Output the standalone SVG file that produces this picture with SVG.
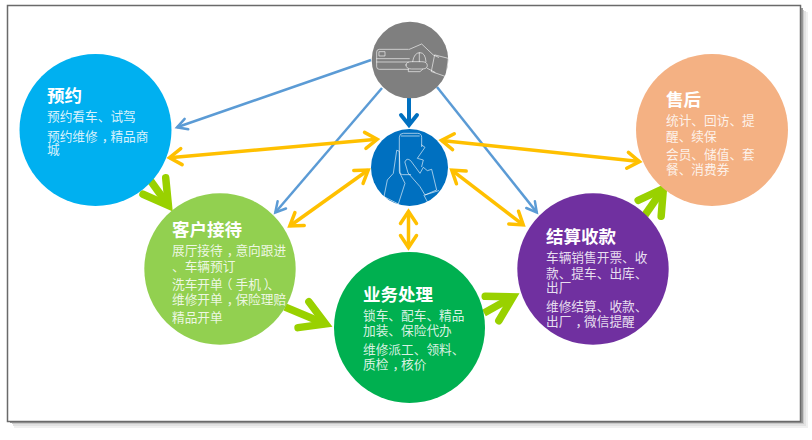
<svg xmlns="http://www.w3.org/2000/svg" width="812" height="440" viewBox="0 0 812 440">
<style>
.t{font-family:"Noto Sans CJK SC","Liberation Sans",sans-serif;fill:#fff}
.h{font-size:17.5px;font-weight:700}
.b{font-size:12.7px;fill-opacity:.85}
.p{letter-spacing:4px}
.m{letter-spacing:-4px}
.p3{letter-spacing:3px}
.m3{letter-spacing:-3px}
.y{stroke:#FFC000;stroke-width:3.5;fill:none;marker-start:url(#my);marker-end:url(#my)}
.l{stroke:#5B9BD5;stroke-width:2.5;fill:none;marker-end:url(#ml)}
.g{stroke:#99D100;stroke-width:7.5;fill:none;marker-end:url(#mg)}
.i{fill:none;stroke:#fff;stroke-opacity:.7;stroke-width:2.6;stroke-linejoin:round;stroke-linecap:round}
</style>
<defs>
<marker id="my" markerUnits="userSpaceOnUse" markerWidth="30" markerHeight="30" viewBox="-20 -15 30 30" refX="0" refY="0" orient="auto-start-reverse"><path d="M-12,-8L0,0L-12,8" fill="none" stroke="#FFC000" stroke-width="3.5" stroke-linecap="round"/></marker>
<marker id="ml" markerUnits="userSpaceOnUse" markerWidth="24" markerHeight="24" viewBox="-14 -12 24 24" refX="0" refY="0" orient="auto"><path d="M-10,-5.5L0,0L-10,5.5" fill="none" stroke="#5B9BD5" stroke-width="2.5" stroke-linecap="round"/></marker>
<marker id="md" markerUnits="userSpaceOnUse" markerWidth="30" markerHeight="30" viewBox="-15 -15 30 30" refX="0" refY="0" orient="auto"><path d="M-10,-8L0,0L-10,8" fill="none" stroke="#0070C0" stroke-width="4" stroke-linecap="round"/></marker>
<marker id="mg" markerUnits="userSpaceOnUse" markerWidth="60" markerHeight="60" viewBox="-35 -30 60 60" refX="0" refY="0" orient="auto"><path d="M-24,-14L0,0L-24,14" fill="none" stroke="#99D100" stroke-width="7.5" stroke-linecap="round"/></marker>
</defs>
<rect width="812" height="440" fill="#fff"/>
<g id="frame">
<rect x="14" y="12" width="794" height="416" fill="#f0f0f0"/>
<rect x="13" y="11" width="793" height="415" fill="#e2e2e2"/>
<rect x="12" y="10" width="792" height="414" fill="#c8c8c8"/>
<rect x="10" y="8" width="793" height="415" fill="#989898"/>
<rect x="7.5" y="5.5" width="793" height="416" fill="#fff" stroke="#6a6a6a" stroke-width="1.5"/>
</g>
<g id="connectors">
<path class="l" d="M371,60L177,127.3"/>
<path class="l" d="M382,88L275.3,212.5"/>
<path class="l" d="M437,87L536.8,212.4"/>
<path d="M409,98V125" fill="none" stroke="#0070C0" stroke-width="4" marker-end="url(#md)"/>
<path class="y" d="M169.5,157.7L377.2,139.3"/>
<path class="y" d="M441.5,140.4L639.5,161.6"/>
<path class="y" d="M368.2,170L289.8,226"/>
<path class="y" d="M451.8,170.1L523.2,224.9"/>
<path class="y" d="M408.5,211.5V247.5"/>
<path class="g" d="M150,180L168.4,205.5"/>
<path class="g" d="M285,307L325.6,324"/>
<path class="g" d="M484,313L513,296.9"/>
<path class="g" d="M645,215L663.4,188.6"/>
</g>
<g id="node-pay">
<circle cx="410" cy="60" r="38.3" fill="#7F7F7F"/>
<g class="i" transform="translate(340,10) scale(.3333)">
<path d="M205,118H118Q110,118 110,126V170Q110,178 118,178H205"/>
<path d="M110,146H208M110,156H205M118,125H135V138H118Z"/>
<path d="M208,118L245,102L280,135L296,142"/>
<path d="M198,165Q198,155 215,155H245Q262,155 262,167Q262,177 245,177H215Q198,177 198,165ZM218,155Q222,128 240,128Q256,128 258,155M238,128V155M205,178V185H240L248,178"/>
<path d="M285,135L325,145L318,200L275,185ZM262,175L285,187"/>
</g>
</g>
<g id="node-mobile">
<circle cx="409.5" cy="167.5" r="38.5" fill="#0070C0"/>
<g class="i" transform="translate(340,10) scale(.3333)">
<path d="M212,494H188Q178,494 178,484V382Q178,370 190,370H232Q245,370 245,382V410M184,378H238"/>
<path d="M170,422L160,490L142,510L132,560L175,582L195,520L180,490L178,425Z"/>
<path d="M245,405L255,412L232,445L250,450L245,470"/>
<path d="M195,455Q200,442 212,452L240,490L250,472L262,482L275,478L290,540L255,555L240,530L205,490Z"/>
<path d="M252,556L262,575M255,555L296,542"/>
</g>
</g>
<g id="node-reserve">
<circle cx="95.5" cy="130" r="76" fill="#00B0F0"/>
<text class="t h" x="47" y="101.5">预约</text>
<text class="t b" x="47" y="120.5">预约看车、试驾</text>
<text class="t b" x="47" y="140.5">预约维<tspan class="p">修</tspan><tspan class="m">，</tspan>精品商</text>
<text class="t b" x="47" y="154">城</text>
</g>
<g id="node-reception">
<circle cx="220" cy="269" r="75.7" fill="#92D050"/>
<text class="t h" x="172" y="235.5">客户接待</text>
<text class="t b" x="172" y="254.7">展厅接<tspan class="p">待</tspan><tspan class="m">，</tspan>意向跟进</text>
<text class="t b" x="172" y="270.7">、车辆预订</text>
<text class="t b" x="172" y="288.7">洗车开<tspan class="m3">单</tspan><tspan class="p3">（</tspan>手<tspan class="p3">机</tspan><tspan class="m3">）</tspan>、</text>
<text class="t b" x="172" y="303.7">维修开<tspan class="p">单</tspan><tspan class="m">，</tspan>保险理赔</text>
<text class="t b" x="172" y="321.7">精品开单</text>
</g>
<g id="node-business">
<circle cx="409.5" cy="327.5" r="75.5" fill="#00B050"/>
<text class="t h" x="363" y="300.5">业务处理</text>
<text class="t b" x="363" y="319.7">锁车、配车、精品</text>
<text class="t b" x="363" y="335.4">加装、保险代办</text>
<text class="t b" x="363" y="353.7">维修派工、领料、</text>
<text class="t b" x="363" y="368.7">质<tspan class="p">检</tspan><tspan class="m">，</tspan>核价</text>
</g>
<g id="node-payment">
<circle cx="593" cy="269" r="75.7" fill="#7030A0"/>
<text class="t h" x="546" y="242.5">结算收款</text>
<text class="t b" x="546" y="261.7">车辆销售开票、收</text>
<text class="t b" x="546" y="277.7">款、提车、出库、</text>
<text class="t b" x="546" y="291.7">出厂</text>
<text class="t b" x="546" y="310.7">维修结算、收款、</text>
<text class="t b" x="546" y="325.7">出<tspan class="p">厂</tspan><tspan class="m">，</tspan>微信提醒</text>
</g>
<g id="node-aftersale">
<circle cx="712" cy="130" r="76" fill="#F4B183"/>
<text class="t h" x="666" y="105.5">售后</text>
<text class="t b" x="666" y="124.7">统计、回访、提</text>
<text class="t b" x="666" y="140.7">醒、续保</text>
<text class="t b" x="666" y="158.7">会员、储值、套</text>
<text class="t b" x="666" y="173.7">餐、消费券</text>
</g>
</svg>
